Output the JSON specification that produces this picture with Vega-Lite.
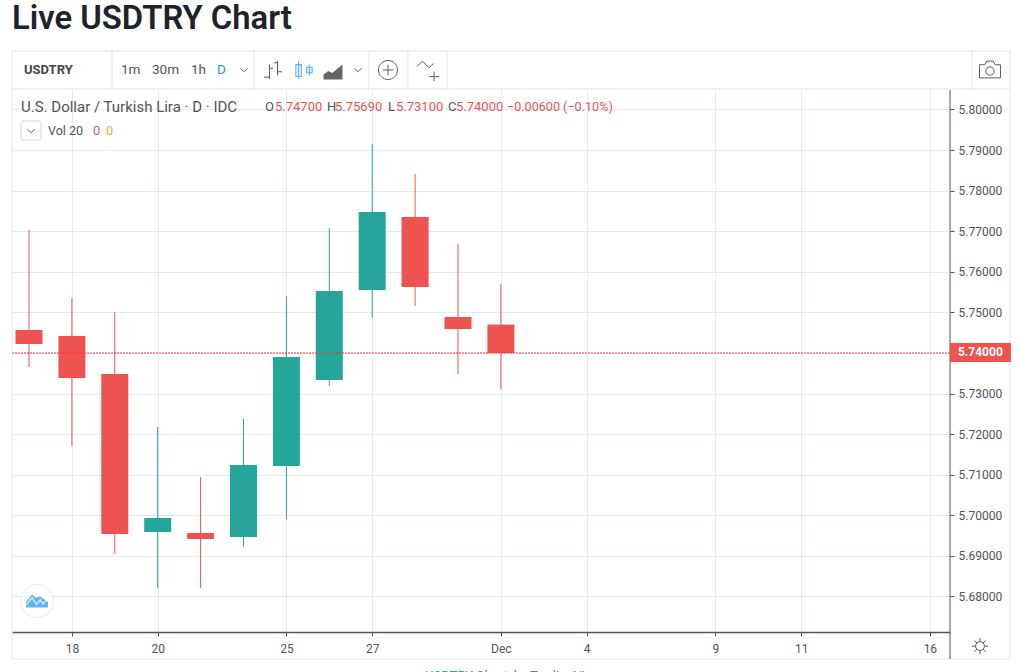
{
"$schema":"https://vega.github.io/schema/vega-lite/v6.json",
"width":938,"height":542,
"autosize":"none",
"padding":{"left":12,"top":90,"right":69,"bottom":40},
"background":"white",
"title":{"text":"Live USDTRY Chart","anchor":"start","frame":"group","offset":15,"fontSize":32.8,"font":"Roboto","fontWeight":600,"color":"#1e222d"},
"config":{"view":{"stroke":null}},
"datasets":{"candles":[
{"date":"Nov 15","slot":0,"open":5.74567,"high":5.77031,"low":5.73655,"close":5.74222},
{"date":"Nov 18","slot":1,"open":5.74419,"high":5.75355,"low":5.71708,"close":5.73384},
{"date":"Nov 19","slot":2,"open":5.73483,"high":5.7501,"low":5.69047,"close":5.6954},
{"date":"Nov 20","slot":3,"open":5.69589,"high":5.72177,"low":5.68209,"close":5.69934},
{"date":"Nov 21","slot":4,"open":5.69565,"high":5.70945,"low":5.68209,"close":5.69417},
{"date":"Nov 22","slot":5,"open":5.69466,"high":5.72374,"low":5.6922,"close":5.7124},
{"date":"Nov 25","slot":6,"open":5.71216,"high":5.75405,"low":5.6991,"close":5.73901},
{"date":"Nov 26","slot":7,"open":5.73335,"high":5.7708,"low":5.73187,"close":5.75528},
{"date":"Nov 27","slot":8,"open":5.75552,"high":5.7915,"low":5.74862,"close":5.77474},
{"date":"Nov 28","slot":9,"open":5.77351,"high":5.78411,"low":5.75158,"close":5.75626},
{"date":"Nov 29","slot":10,"open":5.74887,"high":5.76686,"low":5.73483,"close":5.74591},
{"date":"Dec 2","slot":11,"open":5.747,"high":5.7569,"low":5.731,"close":5.74}
]},
"layer":[
{"data":{"name":"candles"},"transform":[{"calculate":"datum.close>=datum.open?'up':'down'","as":"dir"}],
"mark":{"type":"rule","strokeWidth":1},
"encoding":{
"x":{"field":"slot","type":"quantitative","scale":{"domain":[-0.3963,21.469],"nice":false,"zero":false,"padding":0},
"axis":{"title":null,"values":[1,3,6,8,11,13,16,18,21],"labelExpr":"{'1':'18','3':'20','6':'25','8':'27','11':'Dec','13':'4','16':'9','18':'11','21':'16'}[datum.value]","grid":true,"gridColor":"#e1ecf2","gridWidth":1,"domainColor":"#50535e","domainWidth":1.5,"tickColor":"#50535e","tickSize":4,"labelColor":"#50535e","labelFontSize":12,"labelFont":"Roboto","labelPadding":7,"labelAngle":0,"labelFlush":false,"labelOverlap":false}},
"y":{"field":"low","type":"quantitative","scale":{"domain":[5.67125,5.8048],"nice":false,"zero":false},
"axis":{"title":null,"orient":"right","values":[5.68,5.69,5.7,5.71,5.72,5.73,5.74,5.75,5.76,5.77,5.78,5.79,5.8],"labelExpr":"abs(datum.value-5.74)<0.001?'':format(datum.value,'.5f')","grid":true,"gridColor":"#e1ecf2","gridWidth":1,"domain":false,"tickColor":"#50535e","tickSize":4,"labelColor":"#50535e","labelFontSize":12,"labelFont":"Roboto","labelPadding":4,"labelOverlap":false}},
"y2":{"field":"high"},
"color":{"field":"dir","type":"nominal","scale":{"domain":["up","down"],"range":["#26a69a","#ef5350"]},"legend":null}}},
{"data":{"name":"candles"},"transform":[{"calculate":"datum.close>=datum.open?'up':'down'","as":"dir"}],
"mark":{"type":"bar","size":27},
"encoding":{"x":{"field":"slot","type":"quantitative"},"y":{"field":"open","type":"quantitative"},"y2":{"field":"close"},"color":{"field":"dir","type":"nominal","legend":null}}},
{"data":{"values":[{"price":5.74}]},"mark":{"type":"rule","stroke":"#f23645","strokeDash":[2,1],"strokeWidth":1},"encoding":{"y":{"field":"price","type":"quantitative"},"color":{"value":"#f23645"}}},
{"data":{"values":[{"part":"frame"}]},"mark":{"type":"rect","fill":null,"stroke":"#e0e3eb","strokeWidth":1},"encoding":{"x":{"datum":-0.396,"type":"quantitative"},"x2":{"datum":22.867},"y":{"datum":5.81441,"type":"quantitative"},"y2":{"datum":5.6646}}},
{"data":{"values":[{"part":"toolbar line"}]},"mark":{"type":"rule","stroke":"#e0e3eb"},"encoding":{"x":{"datum":-0.396,"type":"quantitative"},"x2":{"datum":22.867},"y":{"datum":5.80505,"type":"quantitative"}}},
{"data":{"values":[{"part":"sep"}]},"mark":{"type":"rule","stroke":"#e0e3eb"},"encoding":{"x":{"datum":1.935,"type":"quantitative"},"y":{"datum":5.81441,"type":"quantitative"},"y2":{"datum":5.80505}}},
{"data":{"values":[{"part":"sep"}]},"mark":{"type":"rule","stroke":"#e0e3eb"},"encoding":{"x":{"datum":5.245,"type":"quantitative"},"y":{"datum":5.81441,"type":"quantitative"},"y2":{"datum":5.80505}}},
{"data":{"values":[{"part":"sep"}]},"mark":{"type":"rule","stroke":"#e0e3eb"},"encoding":{"x":{"datum":7.925,"type":"quantitative"},"y":{"datum":5.81441,"type":"quantitative"},"y2":{"datum":5.80505}}},
{"data":{"values":[{"part":"sep"}]},"mark":{"type":"rule","stroke":"#e0e3eb"},"encoding":{"x":{"datum":8.834,"type":"quantitative"},"y":{"datum":5.81441,"type":"quantitative"},"y2":{"datum":5.80505}}},
{"data":{"values":[{"part":"sep"}]},"mark":{"type":"rule","stroke":"#e0e3eb"},"encoding":{"x":{"datum":9.744,"type":"quantitative"},"y":{"datum":5.81441,"type":"quantitative"},"y2":{"datum":5.80505}}},
{"data":{"values":[{"part":"sep"}]},"mark":{"type":"rule","stroke":"#e0e3eb"},"encoding":{"x":{"datum":21.981,"type":"quantitative"},"y":{"datum":5.81441,"type":"quantitative"},"y2":{"datum":5.80505}}},
{"data":{"values":[{"part":"price axis line"}]},"mark":{"type":"rule","stroke":"#50535e","strokeWidth":1},"encoding":{"x":{"datum":21.469,"type":"quantitative"},"y":{"datum":5.8048,"type":"quantitative"},"y2":{"datum":5.6646}}},
{"data":{"values":[{"part":"tag"}]},"mark":{"type":"rect","fill":"#ef5350"},"encoding":{"x":{"datum":21.469,"type":"quantitative"},"x2":{"datum":22.89},"y":{"datum":5.74246,"type":"quantitative"},"y2":{"datum":5.73778}}},
{"data":{"values":[{"t":"5.74000"}]},"mark":{"type":"text","align":"left","baseline":"middle","font":"Roboto","fontSize":12,"fontWeight":"bold","color":"white"},"encoding":{"text":{"field":"t"},"x":{"datum":21.655,"type":"quantitative"},"y":{"datum":5.74012,"type":"quantitative"}}},
{"data":{"values":[{"t":"USDTRY"}]},"mark":{"type":"text","align":"left","baseline":"middle","font":"Roboto","fontSize":13,"fontWeight":"bold","color":"#434651"},"encoding":{"text":{"field":"t"},"x":{"datum":-0.117,"type":"quantitative"},"y":{"datum":5.80973,"type":"quantitative"}}},
{"data":{"values":[{"t":"1m"}]},"mark":{"type":"text","align":"left","baseline":"middle","font":"Roboto","fontSize":13.5,"color":"#50535e"},"encoding":{"text":{"field":"t"},"x":{"datum":2.145,"type":"quantitative"},"y":{"datum":5.80973,"type":"quantitative"}}},
{"data":{"values":[{"t":"30m"}]},"mark":{"type":"text","align":"left","baseline":"middle","font":"Roboto","fontSize":13.5,"color":"#50535e"},"encoding":{"text":{"field":"t"},"x":{"datum":2.867,"type":"quantitative"},"y":{"datum":5.80973,"type":"quantitative"}}},
{"data":{"values":[{"t":"1h"}]},"mark":{"type":"text","align":"left","baseline":"middle","font":"Roboto","fontSize":13.5,"color":"#50535e"},"encoding":{"text":{"field":"t"},"x":{"datum":3.776,"type":"quantitative"},"y":{"datum":5.80973,"type":"quantitative"}}},
{"data":{"values":[{"t":"D"}]},"mark":{"type":"text","align":"left","baseline":"middle","font":"Roboto","fontSize":13.5,"color":"#2196f3"},"encoding":{"text":{"field":"t"},"x":{"datum":4.382,"type":"quantitative"},"y":{"datum":5.80973,"type":"quantitative"}}},
{"data":{"values":[{"icon":"chevron"}]},"mark":{"type":"point","shape":"M-1 -.5L0 .5L1 -.5","size":49,"filled":false,"stroke":"#131722","strokeWidth":1},"encoding":{"x":{"datum":5.012,"type":"quantitative"},"y":{"datum":5.80973,"type":"quantitative"}}},
{"data":{"values":[{"icon":"chevron"}]},"mark":{"type":"point","shape":"M-1 -.5L0 .5L1 -.5","size":49,"filled":false,"stroke":"#131722","strokeWidth":1},"encoding":{"x":{"datum":7.669,"type":"quantitative"},"y":{"datum":5.80973,"type":"quantitative"}}},
{"data":{"values":[{"icon":"bars"}]},"mark":{"type":"point","shape":"M-.4 -.6V1M-.4 .8H-1M-.4 -.2H0M.5 -1V.6M.5 -.8H.1M.5 .2H1","size":324,"filled":false,"stroke":"#131722","strokeWidth":1},"encoding":{"x":{"datum":5.688,"type":"quantitative"},"y":{"datum":5.80973,"type":"quantitative"}}},
{"data":{"values":[{"icon":"candles"}]},"mark":{"type":"point","shape":"M-.6 -1V1M-.9 -.6H-.3V.7H-.9ZM.6 -.6V.6M.3 -.3H.9V.3H.3Z","size":324,"filled":false,"stroke":"#2196f3","strokeWidth":1.2},"encoding":{"x":{"datum":6.41,"type":"quantitative"},"y":{"datum":5.80973,"type":"quantitative"}}},
{"data":{"values":[{"icon":"area"}]},"mark":{"type":"point","shape":"M-1 .8V.3L-.5 -.1L-.1 .1L.4 -.3L1 -.8V.8Z","size":361,"filled":true,"fill":"#333333","opacity":0.75,"strokeWidth":0},"encoding":{"x":{"datum":7.086,"type":"quantitative"},"y":{"datum":5.80924,"type":"quantitative"}}},
{"data":{"values":[{"icon":"plus"}]},"mark":{"type":"point","shape":"M-1 0A1 1 0 1 1 1 0A1 1 0 1 1 -1 0M-.55 0H.55M0 -.55V.55","size":361,"filled":false,"stroke":"#131722","strokeWidth":1},"encoding":{"x":{"datum":8.368,"type":"quantitative"},"y":{"datum":5.80973,"type":"quantitative"}}},
{"data":{"values":[{"icon":"indicator"}]},"mark":{"type":"point","shape":"M-1 -.3L-.5 -.8L.1 -.2L.5 -.6M.1 .6H1M.55 .15V1","size":484,"filled":false,"stroke":"#131722","strokeWidth":1},"encoding":{"x":{"datum":9.301,"type":"quantitative"},"y":{"datum":5.80973,"type":"quantitative"}}},
{"data":{"values":[{"icon":"camera"}]},"mark":{"type":"point","shape":"M-1 -.5H-.5L-.3 -.85H.3L.5 -.5H1V.75H-1ZM.4 .1A.4 .4 0 1 1 -.4 .1A.4 .4 0 1 1 .4 .1","size":441,"filled":false,"stroke":"#131722","strokeWidth":1},"encoding":{"x":{"datum":22.401,"type":"quantitative"},"y":{"datum":5.80973,"type":"quantitative"}}},
{"data":{"values":[{"icon":"sun"}]},"mark":{"type":"point","shape":"M-.55 0A.55 .55 0 1 1 .55 0A.55 .55 0 1 1 -.55 0M0 -.55V-1M0 .55V1M-.55 0H-1M.55 0H1M-.4 -.4L-.7 -.7M.4 -.4L.7 -.7M-.4 .4L-.7 .7M.4 .4L.7 .7","size":256,"filled":false,"stroke":"#131722","strokeWidth":1},"encoding":{"x":{"datum":22.168,"type":"quantitative"},"y":{"datum":5.66778,"type":"quantitative"}}},
{"data":{"values":[{"t":"U.S. Dollar / Turkish Lira · D · IDC"}]},"mark":{"type":"text","align":"left","baseline":"middle","font":"Roboto","fontSize":15,"letterSpacing":0.8,"color":"#50535e"},"encoding":{"text":{"field":"t"},"x":{"datum":-0.186,"type":"quantitative"},"y":{"datum":5.80062,"type":"quantitative"}}},
{"data":{"values":[{"t":"O"}]},"mark":{"type":"text","align":"left","baseline":"middle","font":"Roboto","fontSize":13,"color":"#50535e"},"encoding":{"text":{"field":"t"},"x":{"datum":5.501,"type":"quantitative"},"y":{"datum":5.80062,"type":"quantitative"}}},
{"data":{"values":[{"t":"5.74700"}]},"mark":{"type":"text","align":"left","baseline":"middle","font":"Roboto","fontSize":13,"color":"#ef5350"},"encoding":{"text":{"field":"t"},"x":{"datum":5.734,"type":"quantitative"},"y":{"datum":5.80062,"type":"quantitative"}}},
{"data":{"values":[{"t":"H"}]},"mark":{"type":"text","align":"left","baseline":"middle","font":"Roboto","fontSize":13,"color":"#50535e"},"encoding":{"text":{"field":"t"},"x":{"datum":6.946,"type":"quantitative"},"y":{"datum":5.80062,"type":"quantitative"}}},
{"data":{"values":[{"t":"5.75690"}]},"mark":{"type":"text","align":"left","baseline":"middle","font":"Roboto","fontSize":13,"color":"#ef5350"},"encoding":{"text":{"field":"t"},"x":{"datum":7.133,"type":"quantitative"},"y":{"datum":5.80062,"type":"quantitative"}}},
{"data":{"values":[{"t":"L"}]},"mark":{"type":"text","align":"left","baseline":"middle","font":"Roboto","fontSize":13,"color":"#50535e"},"encoding":{"text":{"field":"t"},"x":{"datum":8.368,"type":"quantitative"},"y":{"datum":5.80062,"type":"quantitative"}}},
{"data":{"values":[{"t":"5.73100"}]},"mark":{"type":"text","align":"left","baseline":"middle","font":"Roboto","fontSize":13,"color":"#ef5350"},"encoding":{"text":{"field":"t"},"x":{"datum":8.555,"type":"quantitative"},"y":{"datum":5.80062,"type":"quantitative"}}},
{"data":{"values":[{"t":"C"}]},"mark":{"type":"text","align":"left","baseline":"middle","font":"Roboto","fontSize":13,"color":"#50535e"},"encoding":{"text":{"field":"t"},"x":{"datum":9.767,"type":"quantitative"},"y":{"datum":5.80062,"type":"quantitative"}}},
{"data":{"values":[{"t":"5.74000"}]},"mark":{"type":"text","align":"left","baseline":"middle","font":"Roboto","fontSize":13,"color":"#ef5350"},"encoding":{"text":{"field":"t"},"x":{"datum":9.953,"type":"quantitative"},"y":{"datum":5.80062,"type":"quantitative"}}},
{"data":{"values":[{"t":"−0.00600 (−0.10%)"}]},"mark":{"type":"text","align":"left","baseline":"middle","font":"Roboto","fontSize":12.6,"color":"#ef5350"},"encoding":{"text":{"field":"t"},"x":{"datum":11.142,"type":"quantitative"},"y":{"datum":5.80062,"type":"quantitative"}}},
{"data":{"values":[{"part":"button"}]},"mark":{"type":"rect","fill":"white","stroke":"#d1d4dc","cornerRadius":2},"encoding":{"x":{"datum":-0.186,"type":"quantitative"},"x2":{"datum":0.28},"y":{"datum":5.79717,"type":"quantitative"},"y2":{"datum":5.79248}}},
{"data":{"values":[{"icon":"chevron"}]},"mark":{"type":"point","shape":"M-1 -.5L0 .5L1 -.5","size":49,"filled":false,"stroke":"#131722","strokeWidth":1},"encoding":{"x":{"datum":0.047,"type":"quantitative"},"y":{"datum":5.7947,"type":"quantitative"}}},
{"data":{"values":[{"t":"Vol 20"}]},"mark":{"type":"text","align":"left","baseline":"middle","font":"Roboto","fontSize":12.5,"color":"#50535e"},"encoding":{"text":{"field":"t"},"x":{"datum":0.443,"type":"quantitative"},"y":{"datum":5.7947,"type":"quantitative"}}},
{"data":{"values":[{"t":"0"}]},"mark":{"type":"text","align":"left","baseline":"middle","font":"Roboto","fontSize":13,"color":"#ff5252"},"encoding":{"text":{"field":"t"},"x":{"datum":1.492,"type":"quantitative"},"y":{"datum":5.7947,"type":"quantitative"}}},
{"data":{"values":[{"t":"0"}]},"mark":{"type":"text","align":"left","baseline":"middle","font":"Roboto","fontSize":13,"color":"#ffa726"},"encoding":{"text":{"field":"t"},"x":{"datum":1.795,"type":"quantitative"},"y":{"datum":5.7947,"type":"quantitative"}}},
{"data":{"values":[{"icon":"logo disc"}]},"mark":{"type":"point","shape":"circle","size":1089,"filled":true,"fill":"white","stroke":"#e0e3eb","strokeWidth":1},"encoding":{"x":{"datum":0.186,"type":"quantitative"},"y":{"datum":5.67889,"type":"quantitative"}}},
{"data":{"values":[{"icon":"logo"}]},"mark":{"type":"point","shape":"M-1 .6V.1L-.45 -.6L-.1 -.3L.3 -.4L1 .1V.6Z","size":484,"filled":true,"fill":"#2196f3","strokeWidth":0},"encoding":{"x":{"datum":0.186,"type":"quantitative"},"y":{"datum":5.67889,"type":"quantitative"}}},
{"data":{"values":[{"icon":"logo wave"}]},"mark":{"type":"point","shape":"M-1 .35L-.45 -.3L-.05 .3L.3 -.1L.55 .25L1 -.2","size":484,"filled":false,"stroke":"white","strokeWidth":1.5},"encoding":{"x":{"datum":0.186,"type":"quantitative"},"y":{"datum":5.67889,"type":"quantitative"}}},
{"data":{"values":[{"t":"USDTRY Chart"}]},"mark":{"type":"text","align":"left","baseline":"middle","font":"Roboto","fontSize":13,"color":"#2196f3"},"encoding":{"text":{"field":"t"},"x":{"datum":9.231,"type":"quantitative"},"y":{"datum":5.6604,"type":"quantitative"}}},
{"data":{"values":[{"t":"by TradingView"}]},"mark":{"type":"text","align":"left","baseline":"middle","font":"Roboto","fontSize":13,"color":"#787b86"},"encoding":{"text":{"field":"t"},"x":{"datum":11.3,"type":"quantitative"},"y":{"datum":5.6604,"type":"quantitative"}}}
]
}
